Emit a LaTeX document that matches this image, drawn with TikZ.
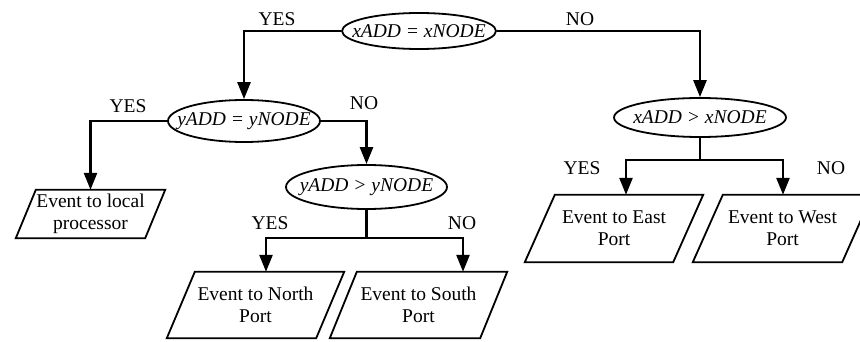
\documentclass[tikz,border=0pt]{standalone}
\usepackage{fontspec}
\setmainfont{Liberation Serif}
\usetikzlibrary{arrows.meta,shapes.geometric,calc}

% slanted input/output frame drawn around a named text node
\newcommand\ioframe[2]{%
  \draw[pline] ($(#1.north west)+(#2/2,0)$) -- ($(#1.north east)+(#2/2,0)$)
    -- ($(#1.south east)-(#2/2,0)$) -- ($(#1.south west)-(#2/2,0)$) -- cycle;}

\begin{document}
\begin{tikzpicture}[x=1pt,y=-1pt,
  every node/.style={font=\fontsize{19.5}{22}\selectfont},
  decision/.style={draw, line width=1.8pt, ellipse, inner xsep=-16pt, inner ysep=0pt,
    font=\fontsize{19.5}{22}\selectfont\itshape},
  conn/.style={line width=2.6pt},
  arr/.style={conn, -{Triangle[width=13pt,length=17pt]}},
  arrboth/.style={conn, {Triangle[width=13pt,length=17pt]}-{Triangle[width=13pt,length=17pt]}},
  iobox/.style={align=center, inner sep=0pt, minimum width=#1},
  pline/.style={line width=1.8pt, line join=miter},
]
\useasboundingbox (0,0) rectangle (860,342);
\clip (0,0) rectangle (860,342);

% decisions
\node[decision, minimum width=154pt, minimum height=36pt] (e1) at (419,31) {xADD = xNODE};
\node[decision, minimum width=152pt, minimum height=42pt] (e2) at (244,121) {yADD = yNODE};
\node[decision, minimum width=172pt, minimum height=39pt] (e3) at (700,117.5) {xADD > xNODE};
\node[decision, minimum width=161pt, minimum height=44pt] (e4) at (366.5,187) {yADD > yNODE};

% outputs
\node[iobox=129pt, minimum height=48pt] (local) at (90.5,214) {Event to local\\processor};
\node[iobox=149pt, minimum height=66pt] (north) at (255.5,305) {Event to North\\Port};
\node[iobox=150pt, minimum height=66pt] (south) at (418.5,305) {Event to South\\Port};
\node[iobox=148pt, minimum height=67pt] (east) at (614,228.5) {Event to East\\Port};
\node[iobox=149pt, minimum height=67pt] (west) at (782.5,228.5) {Event to West\\Port};
\ioframe{local}{20}
\ioframe{north}{28}
\ioframe{south}{27}
\ioframe{east}{30}
\ioframe{west}{30}

% branch points
\coordinate (b4l) at (266,238);
\coordinate (b4r) at (463,238);
\coordinate (b3l) at (626,160);
\coordinate (b3r) at (783,160);

% connectors
\draw[arr] (e1.west) -| (e2.north);
\draw[arr] (e1.east) -| (e3.north);
\draw[arr] (e2.west) -| (local.north);
\draw[arr] (e2.east) -| (e4.north);
\draw[conn] (e4.south) -- (e4.south |- b4l);
\draw[arrboth] (b4l |- north.north) -- (b4l) -- (b4r) -- (b4r |- south.north);
\draw[conn] (e3.south) -- (e3.south |- b3l);
\draw[arrboth] (b3l |- east.north) -- (b3l) -- (b3r) -- (b3r |- west.north);

% branch labels
\node (y1) at (277,19) {YES};
\node (n1) at (580,19) {NO};
\node (y2) at (128,106) {YES};
\node (n2) at (364,103) {NO};
\node (y3) at (270,223) {YES};
\node (n3) at (462,223) {NO};
\node (y4) at (582,168) {YES};
\node (n4) at (831,168) {NO};
\end{tikzpicture}
\end{document}
